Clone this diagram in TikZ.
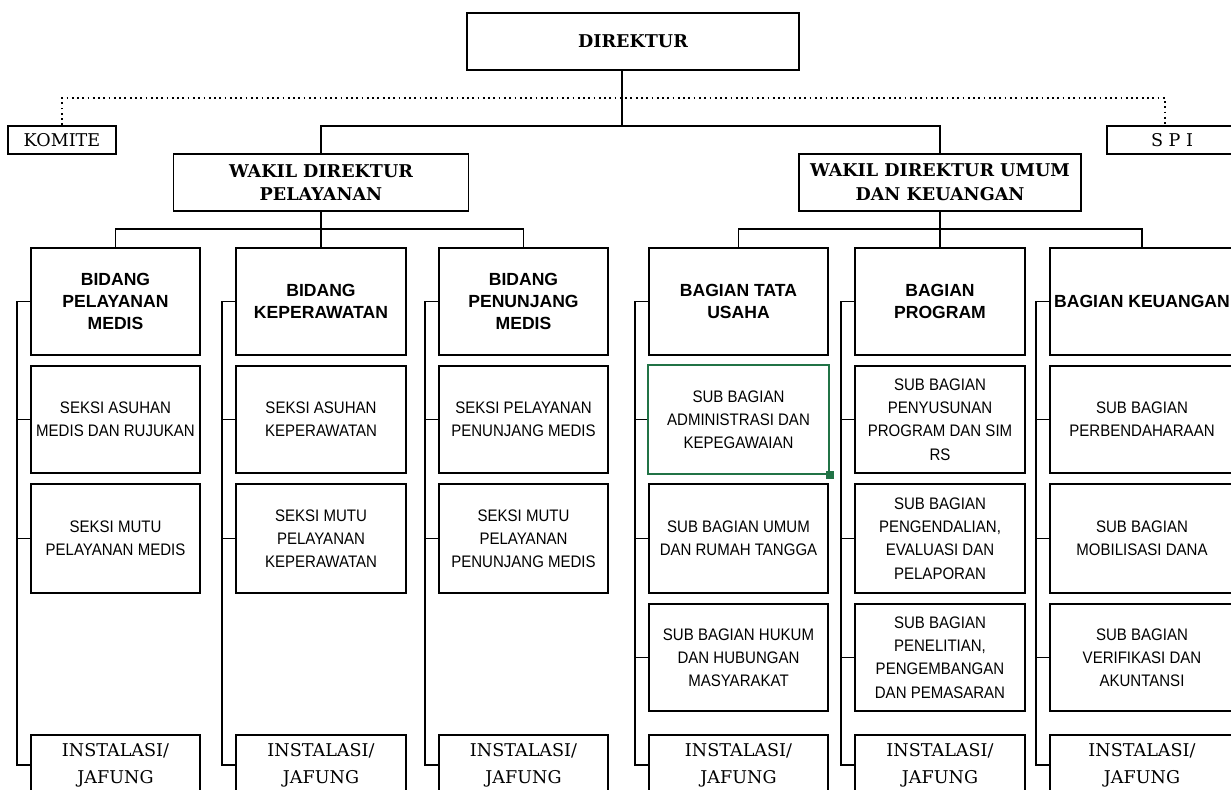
\documentclass[tikz,border=0pt]{standalone}
\usepackage{fontspec}
\usepackage{tikz}
\newfontfamily\slabfont{DejaVu Serif}
\newfontfamily\headfont{Liberation Sans}
\newfontfamily\condfont[FakeStretch=0.9]{Liberation Sans}
\definecolor{selgreen}{RGB}{33,115,70}
\tikzset{every picture/.style={line width=1pt}}
\tikzset{
  box/.style={draw, align=center, inner sep=0pt},
  chief/.style={box, minimum height=1.14cm, font=\slabfont\bfseries\fontsize{10}{13.5}\selectfont},
  side/.style={box, minimum height=0.56cm, font=\slabfont\fontsize{10}{12}\selectfont},
  bidang/.style={box, minimum height=2.14cm, font=\headfont\bfseries\fontsize{10}{12.6}\selectfont},
  seksi/.style={box, minimum height=2.14cm, font=\condfont\fontsize{9.5}{13.2}\selectfont},
  instalasi/.style={box, minimum height=1.2cm, font=\slabfont\fontsize{10}{15.5}\selectfont},
  colw/.style={minimum width=#1}
}

\begin{document}
\begin{tikzpicture}[x=0.02cm, y=-0.02cm]

\useasboundingbox (0,0) rectangle (1231,789);
\clip (0,0) rectangle (1231,789);

% Top level
\node[chief, minimum width=6.64cm] (dir) at (633,41.5) {DIREKTUR};
\node[side, minimum width=2.16cm] (kom) at (62,140) {KOMITE};
\node[side, minimum width=2.6cm] (spi) at (1172,140) {S P I};

\node[chief, minimum width=5.9cm] (wpel) at (321,182.5) {WAKIL DIREKTUR\\PELAYANAN};
\node[chief, minimum width=5.64cm] (wumum) at (940,182.5) {WAKIL DIREKTUR UMUM\\DAN KEUANGAN};

% -------- Pelayanan --------
\node[bidang, colw=3.38cm] (b1) at (115.5,301.5) {BIDANG\\PELAYANAN\\MEDIS};
\node[seksi, colw=3.38cm] (s11) at (115.5,419.5) {SEKSI ASUHAN\\MEDIS DAN RUJUKAN};
\node[seksi, colw=3.38cm, minimum height=2.18cm] (s12) at (115.5,538.5) {SEKSI MUTU\\PELAYANAN MEDIS};
\node[instalasi, colw=3.38cm] (i1) at (115.5,765) {INSTALASI/\\JAFUNG};

\node[bidang, colw=3.4cm] (b2) at (321,301.5) {BIDANG\\KEPERAWATAN};
\node[seksi, colw=3.4cm] (s21) at (321,419.5) {SEKSI ASUHAN\\KEPERAWATAN};
\node[seksi, colw=3.4cm, minimum height=2.18cm] (s22) at (321,538.5) {SEKSI MUTU\\PELAYANAN\\KEPERAWATAN};
\node[instalasi, colw=3.4cm] (i2) at (321,765) {INSTALASI/\\JAFUNG};

\node[bidang, colw=3.38cm] (b3) at (523.5,301.5) {BIDANG\\PENUNJANG\\MEDIS};
\node[seksi, colw=3.38cm] (s31) at (523.5,419.5) {SEKSI PELAYANAN\\PENUNJANG MEDIS};
\node[seksi, colw=3.38cm, minimum height=2.18cm] (s32) at (523.5,538.5) {SEKSI MUTU\\PELAYANAN\\PENUNJANG MEDIS};
\node[instalasi, colw=3.38cm] (i3) at (523.5,765) {INSTALASI/\\JAFUNG};

% -------- Umum dan Keuangan --------
\node[bidang, colw=3.58cm] (b4) at (738.5,301.5) {BAGIAN TATA\\USAHA};
\node[seksi, colw=3.62cm, minimum height=2.18cm, draw=selgreen, line width=1.6pt] (s41) at (738.5,419.5) {SUB BAGIAN\\ADMINISTRASI DAN\\KEPEGAWAIAN};
\node[seksi, colw=3.58cm, minimum height=2.18cm] (s42) at (738.5,538.5) {SUB BAGIAN UMUM\\DAN RUMAH TANGGA};
\node[seksi, colw=3.58cm] (s43) at (738.5,657.5) {SUB BAGIAN HUKUM\\DAN HUBUNGAN\\MASYARAKAT};
\node[instalasi, colw=3.58cm] (i4) at (738.5,765) {INSTALASI/\\JAFUNG};

\node[bidang, colw=3.4cm] (b5) at (940,301.5) {BAGIAN\\PROGRAM};
\node[seksi, colw=3.4cm] (s51) at (940,419.5) {SUB BAGIAN\\PENYUSUNAN\\PROGRAM DAN SIM\\RS};
\node[seksi, colw=3.4cm, minimum height=2.18cm] (s52) at (940,538.5) {SUB BAGIAN\\PENGENDALIAN,\\EVALUASI DAN\\PELAPORAN};
\node[seksi, colw=3.4cm] (s53) at (940,657.5) {SUB BAGIAN\\PENELITIAN,\\PENGEMBANGAN\\DAN PEMASARAN};
\node[instalasi, colw=3.4cm] (i5) at (940,765) {INSTALASI/\\JAFUNG};

\node[bidang, colw=3.68cm] (b6) at (1142,301.5) {BAGIAN KEUANGAN};
\node[seksi, colw=3.68cm] (s61) at (1142,419.5) {SUB BAGIAN\\PERBENDAHARAAN};
\node[seksi, colw=3.68cm, minimum height=2.18cm] (s62) at (1142,538.5) {SUB BAGIAN\\MOBILISASI DANA};
\node[seksi, colw=3.68cm] (s63) at (1142,657.5) {SUB BAGIAN\\VERIFIKASI DAN\\AKUNTANSI};
\node[instalasi, colw=3.68cm] (i6) at (1142,765) {INSTALASI/\\JAFUNG};

% selection handle
\fill[selgreen] ([shift={(-4,-4)}]s41.south east) rectangle ++(8,8);

% Connections from direktur
\coordinate (split) at (622,126);
\coordinate (dotR) at (1165,98);
\draw (dir.south -| split) -- (split);
\draw (wpel.north) |- (split) -| (wumum.north);
\draw[dotted] (kom.north) |- (dotR) -- (dotR |- spi.north);

% Wakil to bidang / bagian
\draw (wpel.south) -- (b2.north);
\draw (b1.north) -- ++(0,-18) -| (b3.north);
\draw (wumum.south) -- (b5.north);
\draw (b4.north) -- ++(0,-18) -| (b6.north);

% Brackets on the left of each column
\foreach \c in {1,...,6}
  \draw (b\c.west) -- ++(-13,0) |- (i\c.west);
\foreach \n in {s11,s12,s21,s22,s31,s32,s41,s42,s43,s51,s52,s53,s61,s62,s63}
  \draw (\n.west) -- ++(-13,0);

\end{tikzpicture}
\end{document}
